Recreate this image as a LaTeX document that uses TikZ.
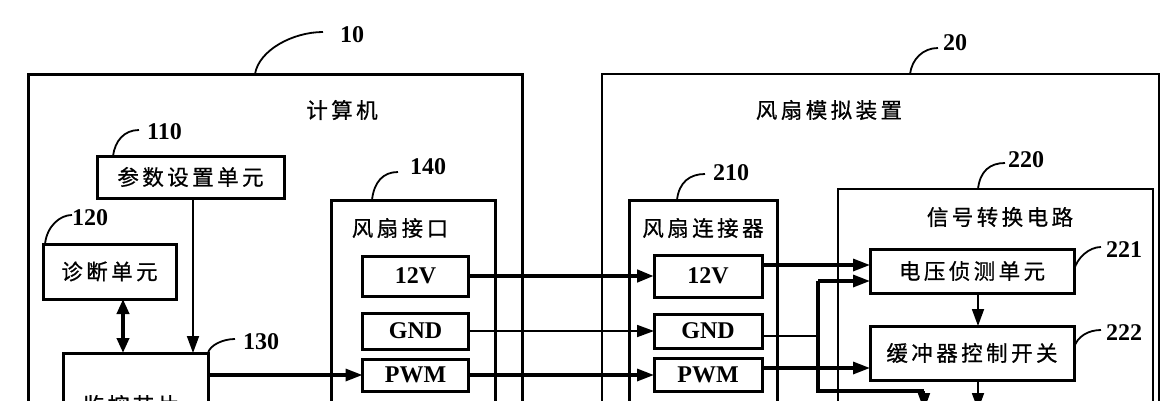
\documentclass[tikz,border=0pt]{standalone}
\usepackage{fontspec}
\setmainfont{Liberation Serif}
\newfontfamily\cjk[LetterSpace=16,FakeBold=0.7]{Noto Sans CJK SC}
\usetikzlibrary{arrows.meta}
\begin{document}
\begin{tikzpicture}[x=1pt,y=-1pt,
  box/.style={draw, line width=3pt, inner sep=0pt, outer sep=0pt},
  cn/.style={font=\cjk\fontsize{21.5}{21.5}\selectfont, inner sep=0pt},
  num/.style={font=\bfseries\fontsize{24}{24}\selectfont, inner sep=0pt},
  pin/.style={box, minimum width=106pt, font=\bfseries\fontsize{24}{24}\selectfont},
  lead/.style={line width=1.8pt},
  arr/.style={-{Triangle[length=17pt,width=12pt]}},
  thickw/.style={line width=4.5pt},
  midw/.style={line width=3.2pt},
  thinw/.style={line width=1.8pt},
]
\fill[white] (0,0) rectangle (1176,400);
\clip (0,0) rectangle (1176,400);

% ---- outer boxes
\node[box, anchor=north west, minimum width=494pt, minimum height=420pt] (n10) at (28,74) {};
\node[box, line width=2.6pt, anchor=north west, minimum width=557pt, minimum height=420pt] (n20) at (602,74) {};

% ---- computer side
\node[cn] (t10) at (342,110) {计算机};
\node[box, cn, anchor=north west, minimum width=187pt, minimum height=42pt] (n110) at (97,156) {参数设置单元};
\node[box, cn, anchor=north west, minimum width=133pt, minimum height=55pt] (n120) at (43,244) {诊断单元};
\node[box, anchor=north west, minimum width=145pt, minimum height=120pt] (n130) at (63,353) {};
\node[cn] (t130) at (131,405) {监控芯片};
\node[box, anchor=north west, minimum width=164pt, minimum height=260pt] (n140) at (331,200) {};
\node[cn] (t140) at (400,228) {风扇接口};
\node[pin, minimum height=40pt] (p12) at (415.5,276) {12V};
\node[pin, minimum height=36pt] (pgnd) at (415.5,331) {GND};
\node[pin, minimum height=32pt] (ppwm) at (415.5,375) {PWM};

% ---- fan simulator side
\node[cn] (t20) at (829,110) {风扇模拟装置};
\node[box, anchor=north west, minimum width=148pt, minimum height=260pt] (n210) at (629,200) {};
\node[cn] (t210) at (703,228) {风扇连接器};
\node[pin, minimum width=108pt, minimum height=42pt] (c12) at (708,276) {12V};
\node[pin, minimum width=108pt, minimum height=34pt] (cgnd) at (708,331) {GND};
\node[pin, minimum width=108pt, minimum height=33pt] (cpwm) at (708,375) {PWM};
\node[box, line width=2.2pt, anchor=north west, minimum width=315pt, minimum height=260pt] (n220) at (838,189) {};
\node[cn] (t220) at (1000,217) {信号转换电路};
\node[box, cn, anchor=north west, minimum width=204pt, minimum height=44pt] (n221) at (870,249) {电压侦测单元};
\node[box, cn, anchor=north west, minimum width=204pt, minimum height=54pt] (n222) at (870,326) {缓冲器控制开关};

% ---- number labels
\node[num, anchor=west] (l10) at (340,35) {10};
\node[num, anchor=west] (l20) at (943,43) {20};
\node[num, anchor=west] (l110) at (147,132) {110};
\node[num, anchor=west] (l120) at (72,218) {120};
\node[num, anchor=west] (l130) at (243,342) {130};
\node[num, anchor=west] (l140) at (410,167) {140};
\node[num, anchor=west] (l210) at (713,173) {210};
\node[num, anchor=west] (l220) at (1008,160) {220};
\node[num, anchor=west] (l221) at (1106,250) {221};
\node[num, anchor=west] (l222) at (1106,333) {222};

% ---- leaders
\draw[lead] ([xshift=227pt]n10.north west) .. controls +(4,-24) and +(-30,0) .. ([xshift=-17pt,yshift=3pt]l10.west);
\draw[lead] ([xshift=308pt]n20.north west) .. controls +(2,-15) and +(-15,0) .. ([xshift=-5pt,yshift=-5pt]l20.west);
\draw[lead] ([xshift=16pt]n110.north west) .. controls +(2,-15) and +(-15,0) .. ([xshift=-8pt,yshift=2pt]l110.west);
\draw[lead] ([xshift=2pt]n120.north west) .. controls +(2,-18) and +(-12,0) .. ([xshift=0pt,yshift=3pt]l120.west);
\draw[lead] (n130.north east) .. controls +(2,-8) and +(-12,0) .. ([xshift=-8pt,yshift=3pt]l130.west);
\draw[lead] ([xshift=41pt]n140.north west) .. controls +(2,-18) and +(-15,0) .. ([xshift=-12pt,yshift=-5pt]l140.west);
\draw[lead] ([xshift=48pt]n210.north west) .. controls +(2,-18) and +(-15,0) .. ([xshift=-8pt,yshift=-1pt]l210.west);
\draw[lead] ([xshift=140pt]n220.north west) .. controls +(2,-18) and +(-15,0) .. ([xshift=-3pt,yshift=-3pt]l220.west);
\draw[lead] ([yshift=1pt]n221.east) .. controls +(3,-12) and +(-12,0) .. ([xshift=-5pt,yshift=3pt]l221.west);
\draw[lead] ([yshift=5pt]n222.east) .. controls +(3,-12) and +(-12,0) .. ([xshift=-5pt,yshift=3pt]l222.west);

% ---- connectors, computer side
\draw[thickw, {Triangle[length=15pt,width=12pt]}-{Triangle[length=15pt,width=12pt]}] (n120.south -| 123,0) -- (n130.north -| 123,0);
\draw[thinw, arr] (n110.south -| 193,0) -- (n130.north -| 193,0);
\draw[midw, arr] (n130.east |- ppwm.west) -- (ppwm.west);

% ---- connectors between the two devices
\draw[thickw, arr] (p12.east) -- (c12.west);
\draw[thinw, arr] (pgnd.east) -- (cgnd.west);
\draw[midw, arr] (ppwm.east) -- (cpwm.west);

% ---- connectors, simulator side
\coordinate (o12) at ([yshift=11pt]c12.east);
\draw[midw, arr] (o12) -- (o12 -| n221.west);
\coordinate (ognd) at ([yshift=-5pt]cgnd.east);
\coordinate (jtop) at (818,281);
\coordinate (jbot) at (818,391);
\coordinate (jend) at (924,391);
\coordinate (jtip) at (924,410);
\draw[thinw] (ognd) -- (ognd -| jtop);
\draw[midw, line join=miter] (jtop) -- (jbot) -- (jend);
\draw[midw, arr] (jtop) -- (jtop -| n221.west);
\draw[thinw, arr] (jend) -- (jtip);
\coordinate (opwm) at ([yshift=7pt]cpwm.east);
\draw[midw, arr] (opwm) -- (opwm -| n222.west);
\draw[thinw, arr] ([xshift=6pt]n221.south) -- ([xshift=6pt]n222.north);
\coordinate (o222) at ([xshift=6pt]n222.south);
\draw[thinw, arr] (o222) -- ++(0,30);
\end{tikzpicture}
\end{document}
